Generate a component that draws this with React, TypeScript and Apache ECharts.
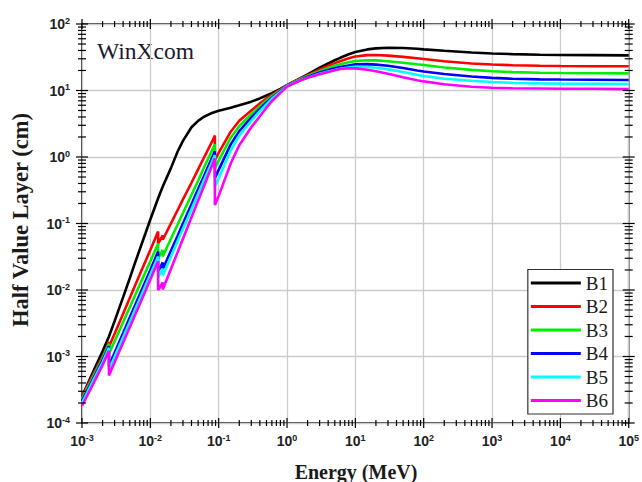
import React, { useEffect, useRef } from "react";
import * as echarts from "echarts";

// Photon energy grid (MeV). Repeated energies mark absorption edges (Pb M, L3, L2, K).
const ENERGY_MEV = [
  0.001, 0.0015, 0.002, 0.00248, 0.00248, 0.003, 0.004, 0.005, 0.006, 0.008,
  0.01, 0.013, 0.013, 0.0152, 0.0152, 0.02, 0.025, 0.03, 0.04, 0.05,
  0.06, 0.08, 0.088, 0.088, 0.1, 0.15, 0.2, 0.3, 0.4, 0.5,
  0.6, 0.8, 1, 1.5, 2, 3, 4, 5, 6, 8,
  10, 15, 20, 30, 50, 80, 100, 200, 500, 1000,
  2000, 5000, 10000, 30000, 100000,
];

// Half value layer (cm) of each sample at the energies above.
const HVL_B1 = [
  2.5e-4, 6.3e-4, 1.2e-3, 2.0e-3, 2.0e-3, 3.4e-3, 7.8e-3, 0.015, 0.026, 0.06,
  0.115, 0.24, 0.24, 0.36, 0.36, 0.68, 1.2, 1.75, 2.8, 3.5,
  4.0, 4.6, 4.75, 4.75, 4.95, 5.5, 6.0, 6.8, 7.6, 8.4,
  9.1, 10.6, 12, 15, 17.5, 22, 25.5, 28.5, 31, 35,
  38, 41.5, 43, 44, 43.5, 42.5, 41.5, 39.5, 37.3, 36,
  35.2, 34.5, 34.2, 34, 33.8,
];
const HVL_B2 = [
  2.5e-4, 5.7e-4, 1.0e-3, 1.65e-3, 1.4e-3, 2.2e-3, 4.4e-3, 7.6e-3, 0.0118, 0.0236,
  0.04, 0.076, 0.05, 0.066, 0.057, 0.1, 0.158, 0.23, 0.41, 0.65,
  0.95, 1.7, 2.1, 0.9, 1.15, 2.4, 3.5, 5.0, 6.4, 7.6,
  8.6, 10.3, 12, 14.8, 17, 20.5, 23.5, 25.8, 27.6, 30.5,
  32.5, 34, 34.2, 33.5, 32, 30.5, 29.8, 27.5, 25.5, 24.6,
  24, 23.5, 23.3, 23.2, 23.1,
];
const HVL_B3 = [
  2.3e-4, 5.3e-4, 9.5e-4, 1.55e-3, 1.1e-3, 1.7e-3, 3.3e-3, 5.5e-3, 8.4e-3, 0.0163,
  0.027, 0.05, 0.03, 0.04, 0.032, 0.059, 0.096, 0.144, 0.27, 0.44,
  0.67, 1.26, 1.55, 0.68, 0.88, 1.95, 2.9, 4.4, 5.8, 7.1,
  8.2, 10.1, 11.9, 14.5, 16.5, 19.5, 21.8, 23.5, 24.8, 26.6,
  27.8, 28.5, 28.4, 27.6, 26.2, 24.8, 24.2, 22.2, 20.4, 19.5,
  18.9, 18.5, 18.3, 18.2, 18.1,
];
const HVL_B4 = [
  2.15e-4, 4.9e-4, 8.8e-4, 1.42e-3, 7.2e-4, 1.14e-3, 2.25e-3, 3.85e-3, 5.95e-3, 0.0118,
  0.02, 0.038, 0.019, 0.026, 0.0205, 0.039, 0.065, 0.1, 0.195, 0.33,
  0.5, 0.98, 1.22, 0.48, 0.64, 1.55, 2.45, 3.9, 5.3, 6.6,
  7.8, 9.8, 11.8, 14.2, 16, 18.6, 20.3, 21.6, 22.6, 23.8,
  24.7, 24.9, 24.5, 23.5, 21.8, 20, 19.3, 17.7, 16.2, 15.5,
  15.0, 14.7, 14.6, 14.5, 14.4,
];
const HVL_B5 = [
  2.0e-4, 4.6e-4, 8.2e-4, 1.35e-3, 6.3e-4, 9.9e-4, 1.95e-3, 3.3e-3, 5.1e-3, 0.0101,
  0.0171, 0.032, 0.0155, 0.021, 0.0165, 0.0316, 0.054, 0.083, 0.163, 0.277,
  0.43, 0.85, 1.07, 0.36, 0.48, 1.25, 2.1, 3.5, 4.9, 6.2,
  7.5, 9.6, 11.7, 14, 15.6, 17.8, 19.3, 20.3, 21.2, 22.2,
  22.8, 22.6, 22, 20.8, 19, 17.2, 16.5, 15.0, 14.0, 13.4,
  13.0, 12.8, 12.7, 12.6, 12.5,
];
const HVL_B6 = [
  1.8e-4, 4.1e-4, 7.4e-4, 1.22e-3, 5.2e-4, 8.2e-4, 1.62e-3, 2.76e-3, 4.25e-3, 8.4e-3,
  0.0144, 0.027, 0.01, 0.013, 0.0102, 0.0207, 0.0368, 0.059, 0.124, 0.22,
  0.35, 0.74, 0.95, 0.19, 0.26, 0.8, 1.5, 2.8, 4.1, 5.5,
  6.9, 9.2, 11.5, 13.9, 15.5, 17.5, 19, 20.2, 21, 21.6,
  21.5, 20.5, 19.5, 17.8, 15.8, 14.3, 13.7, 12.4, 11.4, 11.0,
  10.8, 10.7, 10.6, 10.6, 10.5,
];

const SERIES_NAMES = ["B1", "B2", "B3", "B4", "B5", "B6"];
const SERIES_VALUES = [HVL_B1, HVL_B2, HVL_B3, HVL_B4, HVL_B5, HVL_B6];
const SERIES_COLORS = ["#000000", "#ff0000", "#00ee00", "#0000ff", "#00ffff", "#ff00ff"];

// Axis ranges (decades)
const X_DECADES = [-3, 5];
const Y_DECADES = [-4, 2];
const X_MIN = 10 ** X_DECADES[0];
const X_MAX = 10 ** X_DECADES[1];
const Y_MIN = 10 ** Y_DECADES[0];
const Y_MAX = 10 ** Y_DECADES[1];

// Major (decade) and minor (2..9) tick positions for a log axis
function logTicks(lo: number, hi: number): number[][] {
  const out: number[][] = [];
  for (let k = lo; k <= hi; k++) {
    out.push([10 ** k, 1]);
    if (k < hi) for (let m = 2; m <= 9; m++) out.push([m * 10 ** k, 0]);
  }
  return out;
}

const SANS = "'Liberation Sans', Arial, sans-serif";
const SERIF = "'Liberation Serif', 'Times New Roman', serif";

const powLabel = (v: number) => {
  const e = Math.round(Math.log10(v));
  return `{b|10}{s|${e}}`;
};
const labelRich = {
  b: { fontFamily: SANS, fontWeight: "bold", fontSize: 14, color: "#222" },
  s: { fontFamily: SANS, fontWeight: "bold", fontSize: 9, color: "#222", verticalAlign: "top", padding: [0, 0, 7, 0] },
};

const TICK_STYLE = { stroke: "#000", lineWidth: 1.2 };

export default function App() {
  const ref = useRef<HTMLDivElement>(null);

  useEffect(() => {
    if (!ref.current) return;
    const chart = echarts.init(ref.current, undefined, { renderer: "svg" });

    const lineSeries = SERIES_NAMES.map((name, i) => ({
      name,
      type: "line",
      data: ENERGY_MEV.map((e, j) => [e, SERIES_VALUES[i][j]]),
      showSymbol: false,
      symbol: "none",
      color: SERIES_COLORS[i],
      lineStyle: { color: SERIES_COLORS[i], width: 2.6 },
      emphasis: { disabled: true },
      z: 3,
    }));

    const xTickSeries = {
      type: "custom",
      silent: true,
      clip: false,
      z: 6,
      data: logTicks(X_DECADES[0], X_DECADES[1]).map(([v, major]) => [v, Y_MIN, major]),
      renderItem: (_p: any, api: any) => {
        const v = api.value(0);
        const L = api.value(2) ? 5 : 3;
        const b = api.coord([v, Y_MIN]);
        const t = api.coord([v, Y_MAX]);
        return {
          type: "group",
          children: [
            { type: "line", shape: { x1: b[0], y1: b[1] - L, x2: b[0], y2: b[1] + L }, style: TICK_STYLE },
            { type: "line", shape: { x1: t[0], y1: t[1] - L, x2: t[0], y2: t[1] + L }, style: TICK_STYLE },
          ],
        };
      },
    };

    const yTickSeries = {
      type: "custom",
      silent: true,
      clip: false,
      z: 6,
      data: logTicks(Y_DECADES[0], Y_DECADES[1]).map(([v, major]) => [X_MIN, v, major]),
      renderItem: (_p: any, api: any) => {
        const v = api.value(1);
        const L = api.value(2) ? 6 : 4;
        const l = api.coord([X_MIN, v]);
        const r = api.coord([X_MAX, v]);
        return {
          type: "group",
          children: [
            { type: "line", shape: { x1: l[0] - L, y1: l[1], x2: l[0] + L, y2: l[1] }, style: TICK_STYLE },
            { type: "line", shape: { x1: r[0] - L, y1: r[1], x2: r[0] + L, y2: r[1] }, style: TICK_STYLE },
          ],
        };
      },
    };

    chart.setOption({
      animation: false,
      backgroundColor: "#ffffff",
      grid: {
        left: 82,
        right: 12,
        top: 24,
        bottom: 59,
        show: true,
        borderColor: "#000",
        borderWidth: 1.5,
        backgroundColor: "transparent",
        containLabel: false,
      },
      xAxis: {
        type: "log",
        logBase: 10,
        min: X_MIN,
        max: X_MAX,
        splitNumber: 8,
        axisLine: { show: false },
        axisTick: { show: false },
        splitLine: { show: true, lineStyle: { color: "#cccccc", width: 1.3 } },
        axisLabel: { margin: 10, formatter: powLabel, rich: labelRich },
      },
      yAxis: {
        type: "log",
        logBase: 10,
        min: Y_MIN,
        max: Y_MAX,
        splitNumber: 6,
        axisLine: { show: false },
        axisTick: { show: false },
        splitLine: { show: true, lineStyle: { color: "#cccccc", width: 1.3 } },
        axisLabel: { margin: 12, formatter: powLabel, rich: labelRich },
      },
      legend: {
        data: SERIES_NAMES,
        orient: "vertical",
        right: 29,
        bottom: 68,
        backgroundColor: "#ffffff",
        borderColor: "#333333",
        borderWidth: 1.2,
        borderRadius: 0,
        padding: [4, 5, 4, 3],
        itemWidth: 50,
        itemHeight: 3,
        itemGap: 4.5,
        icon: "rect",
        selectedMode: false,
        textStyle: { fontFamily: SERIF, fontSize: 19, color: "#1a1a1a" },
      },
      graphic: [
        {
          type: "text",
          x: 97,
          y: 51,
          style: {
            text: "WinXcom",
            fontFamily: SERIF,
            fontSize: 23.5,
            fill: "#1a1a2e",
            textAlign: "left",
            textVerticalAlign: "middle",
          },
        },
        {
          type: "text",
          x: 20,
          y: 220,
          rotation: Math.PI / 2,
          style: {
            text: "Half Value Layer (cm)",
            fontFamily: SERIF,
            fontWeight: "bold",
            fontSize: 22.5,
            fill: "#1a1a1a",
            textAlign: "center",
            textVerticalAlign: "middle",
          },
        },
        {
          type: "text",
          x: 356,
          y: 472,
          style: {
            text: "Energy (MeV)",
            fontFamily: SERIF,
            fontWeight: "bold",
            fontSize: 20,
            fill: "#1a1a1a",
            textAlign: "center",
            textVerticalAlign: "middle",
          },
        },
      ],
      series: [...lineSeries, xTickSeries, yTickSeries],
    });

    return () => chart.dispose();
  }, []);

  return (
    <div
      ref={ref}
      style={{ position: "absolute", left: 0, top: 0, width: 642, height: 482 }}
    />
  );
}
